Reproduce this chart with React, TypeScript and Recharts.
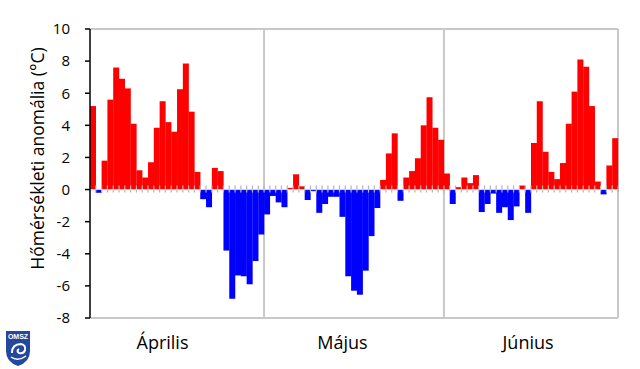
import { Bar, BarChart, CartesianGrid, Cell, ReferenceLine, XAxis, YAxis } from "recharts";

// daily temperature anomalies (°C)
const aprilValues = [
  5.2, -0.2, 1.8, 5.6, 7.6, 6.9, 6.3, 4.1, 1.2, 0.75, 1.7, 3.85, 5.5, 4.2, 3.6,
  6.25, 7.85, 4.85, 1.1, -0.6, -1.1, 1.35, 1.15, -3.8, -6.8, -5.35, -5.4, -5.9, -4.45, -2.8,
];
const mayValues = [
  -1.55, -0.4, -0.8, -1.1, 0.1, 0.95, 0.2, -0.65, -0.1, -1.45, -0.9, -0.45, -0.45, -1.7, -5.4,
  -6.3, -6.55, -5.05, -2.9, -1.15, 0.6, 2.25, 3.5, -0.7, 0.75, 1.15, 1.95, 4.0, 5.75, 3.85, 3.1,
];
const juneValues = [
  1.0, -0.9, 0.15, 0.75, 0.4, 0.9, -1.4, -0.9, -0.25, -1.45, -1.1, -1.9, -1.05, 0.25, -1.45,
  2.9, 5.5, 2.35, 1.1, 0.65, 1.65, 4.1, 6.1, 8.1, 7.65, 5.2, 0.5, -0.3, 1.5, 3.2,
];
const monthLabels = ["Április", "Május", "Június"];
const monthLabelDays = [13, 44, 76];
const yTicks = [-8, -6, -4, -2, 0, 2, 4, 6, 8, 10];
const yMin = -8;
const yMax = 10;

const data = [...aprilValues, ...mayValues, ...juneValues].map((value, i) => ({ day: i + 1, value }));
// number of days before each month boundary
const monthBoundaries = [aprilValues.length, aprilValues.length + mayValues.length];

const FONT = "'Open Sans', sans-serif";
const GRID = "#c8c8c8";
const TICK = "#b4b4b4";

// bar + small tick mark on the zero line at the bar's left edge
function DayBar(props: any) {
  const { x, y, width, height, fill, payload } = props;
  if (![x, y, width, height].every((v) => Number.isFinite(v))) return null;
  const y1 = Math.min(y, y + height);
  const y2 = Math.max(y, y + height);
  const base = (payload?.value ?? 0) >= 0 ? y2 : y1;
  const last = payload?.day === data.length;
  return (
    <g>
      <rect x={x} y={y1} width={width} height={y2 - y1} fill={fill} />
      <line x1={x} x2={x} y1={base - 4} y2={base + 3} stroke={TICK} strokeWidth={1.2} />
      {last && <line x1={x + width} x2={x + width} y1={base - 4} y2={base + 3} stroke={TICK} strokeWidth={1.2} />}
    </g>
  );
}

function Logo() {
  return (
    <svg width={30} height={38} style={{ position: "absolute", left: 3, top: 329 }}>
      <path d="M3 2 H27 V22 Q27 33 15 37 Q3 33 3 22 Z" fill="#2448a0" />
      <text x={15} y={10} textAnchor="middle" fontSize={7} fontWeight={700} fill="#fff" fontFamily="'Liberation Sans', sans-serif">
        OMSZ
      </text>
      <path d="M9 24 Q9 15 18 15 Q23 16 22 21 Q21 25 16 24 Q13 22 16 20" fill="none" stroke="#fff" strokeWidth={2} />
      <path d="M8 28 Q15 33 23 27" fill="none" stroke="#fff" strokeWidth={1.5} />
    </svg>
  );
}

const topBorder = (args: any) => {
  try {
    const o = args?.offset;
    return o && Number.isFinite(o.top) ? [o.top] : [];
  } catch {
    return [];
  }
};

const monthAndRightBorders = (args: any) => {
  try {
    const o = args?.offset;
    if (!o || !Number.isFinite(o.left) || !Number.isFinite(o.width)) return [];
    return [...monthBoundaries.map((b) => o.left + (o.width * b) / data.length), o.left + o.width];
  } catch {
    return [];
  }
};

export default function App() {
  return (
    <div style={{ position: "absolute", left: 0, top: 0, width: 640, height: 369, background: "#fff" }}>
      <BarChart
        width={640}
        height={369}
        data={data}
        margin={{ top: 29, right: 22, bottom: 21, left: 30 }}
        barCategoryGap={0}
        barGap={0}
      >
        <CartesianGrid
          stroke={GRID}
          strokeWidth={2}
          horizontalCoordinatesGenerator={topBorder}
          verticalCoordinatesGenerator={monthAndRightBorders}
        />
        <XAxis
          dataKey="day"
          ticks={monthLabelDays}
          interval={0}
          height={30}
          tickLine={false}
          tickMargin={12}
          axisLine={{ stroke: GRID, strokeWidth: 2 }}
          tickFormatter={(v: number) => monthLabels[monthLabelDays.indexOf(v)] ?? ""}
          tick={{ fill: "#000", fontSize: 18, fontFamily: FONT }}
        />
        <YAxis
          width={60}
          domain={[yMin, yMax]}
          ticks={yTicks}
          interval={0}
          allowDataOverflow
          tickSize={5}
          tickMargin={15}
          axisLine={{ stroke: "#000", strokeWidth: 1.5 }}
          tickLine={{ stroke: "#000", strokeWidth: 1.5 }}
          tick={{ fill: "#000", fontSize: 15, fontFamily: FONT }}
          label={{
            content: ({ viewBox }: any) => {
              const cx = viewBox.x + 7;
              const cy = viewBox.y + viewBox.height / 2 - 15;
              return (
                <text
                  x={cx}
                  y={cy}
                  transform={`rotate(-90 ${cx} ${cy})`}
                  textAnchor="middle"
                  dominantBaseline="central"
                  fontSize={17.5}
                  fontFamily={FONT}
                  fill="#000"
                >
                  Hőmérsékleti anomália (°C)
                </text>
              );
            },
          }}
        />
        <ReferenceLine y={0} stroke="#c0d8d8" strokeWidth={1} />
        <Bar dataKey="value" isAnimationActive={false} shape={DayBar}>
          {data.map((d) => (
            <Cell key={d.day} fill={d.value >= 0 ? "#ff0000" : "#0000ff"} />
          ))}
        </Bar>
      </BarChart>
      <Logo />
    </div>
  );
}
